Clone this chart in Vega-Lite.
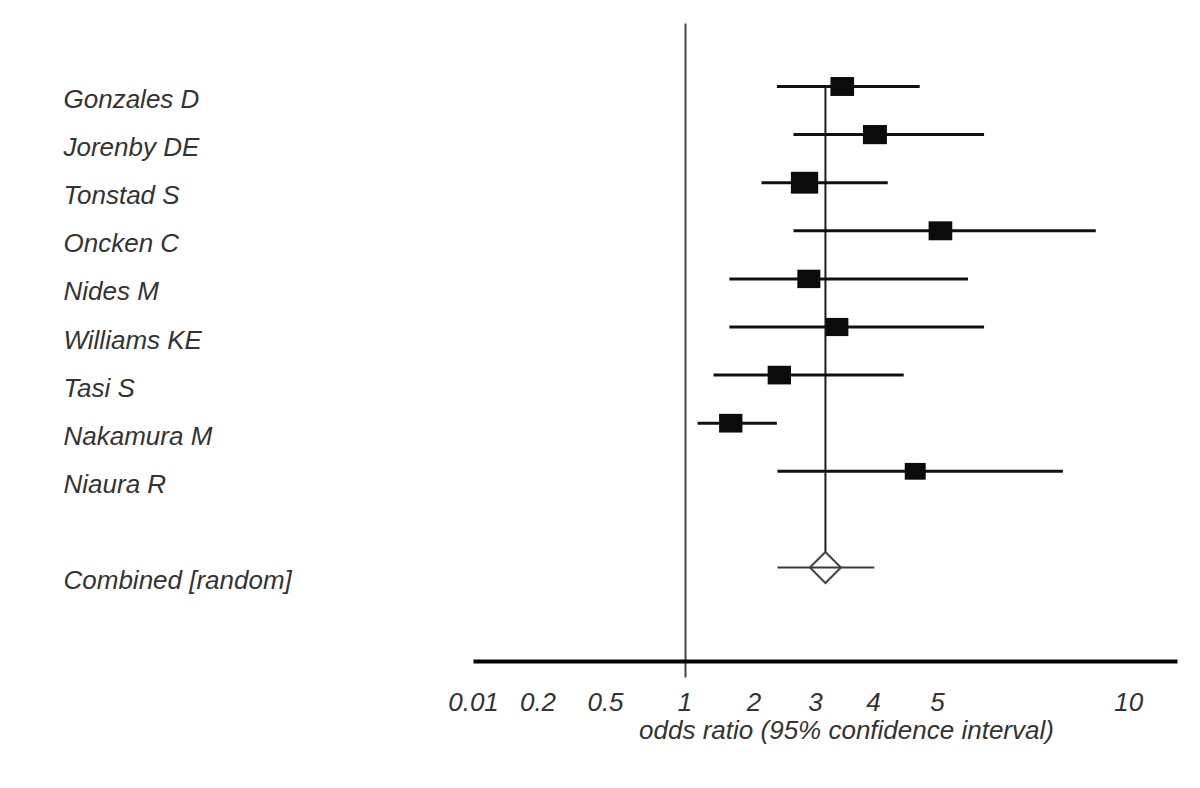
{
  "$schema": "https://vega.github.io/schema/vega-lite/v6.json",
  "width": 1200,
  "height": 638,
  "autosize": {"type": "none"},
  "padding": {"left": 0, "top": 23, "right": 0, "bottom": 127},
  "background": "white",
  "config": {"view": {"stroke": null}, "font": "Liberation Sans"},
  "data": {
    "values": [
      {"study": "Gonzales D", "type": "study", "or": 3.47, "lo": 2.38, "hi": 4.73, "weight": 11.2},
      {"study": "Jorenby DE", "type": "study", "or": 4.03, "lo": 2.65, "hi": 6.23, "weight": 11.5},
      {"study": "Tonstad S", "type": "study", "or": 2.83, "lo": 2.13, "hi": 4.23, "weight": 14.9},
      {"study": "Oncken C", "type": "study", "or": 5.09, "lo": 2.65, "hi": 9.15, "weight": 11.2},
      {"study": "Nides M", "type": "study", "or": 2.9, "lo": 1.65, "hi": 5.81, "weight": 10.6},
      {"study": "Williams KE", "type": "study", "or": 3.38, "lo": 1.65, "hi": 6.23, "weight": 10.3},
      {"study": "Tasi S", "type": "study", "or": 2.42, "lo": 1.42, "hi": 4.48, "weight": 10.9},
      {"study": "Nakamura M", "type": "study", "or": 1.67, "lo": 1.19, "hi": 2.38, "weight": 10.9},
      {"study": "Niaura R", "type": "study", "or": 4.66, "lo": 2.39, "hi": 8.29, "weight": 8.8},
      {"study": "Combined [random]", "type": "pooled", "or": 3.18, "lo": 2.39, "hi": 4.02, "weight": null}
    ]
  },
  "encoding": {
    "x": {
      "field": "or",
      "type": "quantitative",
      "scale": {
        "type": "linear",
        "domain": [0.01, 0.2, 0.5, 1, 2, 3, 4, 5, 10, 11.27],
        "range": [473, 537.5, 605, 684.5, 753.5, 815, 873, 937, 1128.3, 1177],
        "nice": false,
        "zero": false
      },
      "axis": {
        "values": [0.01, 0.2, 0.5, 1, 2, 3, 4, 5, 10],
        "format": "~g",
        "title": "odds ratio (95% confidence interval)",
        "labelFont": "Liberation Sans",
        "labelFontSize": 26,
        "labelFontStyle": "italic",
        "labelColor": "#333333",
        "labelFlush": false,
        "labelOverlap": false,
        "labelBaseline": "alphabetic",
        "labelPadding": 33,
        "tickSize": 16,
        "tickWidth": 2,
        "tickColor": {"condition": {"test": "datum.value == 1", "value": "#444444"}, "value": "transparent"},
        "grid": true,
        "gridWidth": 2,
        "gridColor": {"condition": {"test": "datum.value == 1", "value": "#444444"}, "value": "transparent"},
        "domainColor": "#000000",
        "domainWidth": 4,
        "titleFont": "Liberation Sans",
        "titleFontSize": 26,
        "titleFontStyle": "italic",
        "titleFontWeight": "normal",
        "titleColor": "#333333",
        "titleX": 846,
        "titleY": 77,
        "titleAlign": "center",
        "titleBaseline": "alphabetic"
      }
    },
    "y": {
      "field": "study",
      "type": "nominal",
      "scale": {
        "type": "point",
        "domain": ["  ", "Gonzales D", "Jorenby DE", "Tonstad S", "Oncken C", "Nides M", "Williams KE", "Tasi S", "Nakamura M", "Niaura R", " ", "Combined [random]", "   "],
        "range": [0, 638],
        "padding": 0.632,
        "align": 0.2533,
        "round": false
      },
      "axis": {
        "title": null,
        "orient": "left",
        "offset": -63,
        "domain": false,
        "ticks": false,
        "tickSize": 0,
        "grid": false,
        "labelAlign": "left",
        "labelBaseline": "alphabetic",
        "labelPadding": 0,
        "labelOffset": 21,
        "labelFont": "Liberation Sans",
        "labelFontSize": 26,
        "labelFontStyle": "italic",
        "labelColor": "#333333",
        "labelLimit": 0
      }
    }
  },
  "layer": [
    {
      "transform": [{"filter": "datum.type == 'pooled'"}],
      "mark": {"type": "rule", "color": "#1e1e1e", "strokeWidth": 2},
      "encoding": {
        "y": {"datum": "Gonzales D", "type": "nominal"},
        "y2": {"field": "study"}
      }
    },
    {
      "transform": [{"filter": "datum.type == 'pooled'"}],
      "mark": {"type": "point", "shape": "diamond", "filled": true, "fill": "white", "stroke": "#444444", "strokeWidth": 2, "size": 961, "opacity": 1}
    },
    {
      "mark": {"type": "rule"},
      "encoding": {
        "x": {"field": "lo", "type": "quantitative"},
        "x2": {"field": "hi"},
        "strokeWidth": {"condition": {"test": "datum.type == 'pooled'", "value": 2}, "value": 3},
        "color": {"condition": {"test": "datum.type == 'pooled'", "value": "#3a3a3a"}, "value": "#111111"}
      }
    },
    {
      "transform": [{"filter": "datum.type == 'study'"}],
      "mark": {"type": "point", "shape": "M-1,-0.8L1,-0.8L1,0.8L-1,0.8Z", "filled": true, "color": "#0b0b0b", "opacity": 1},
      "encoding": {
        "size": {"field": "weight", "type": "quantitative", "scale": {"type": "linear", "zero": true, "domain": [0, 100], "range": [0, 5000]}, "legend": null}
      }
    }
  ]
}
